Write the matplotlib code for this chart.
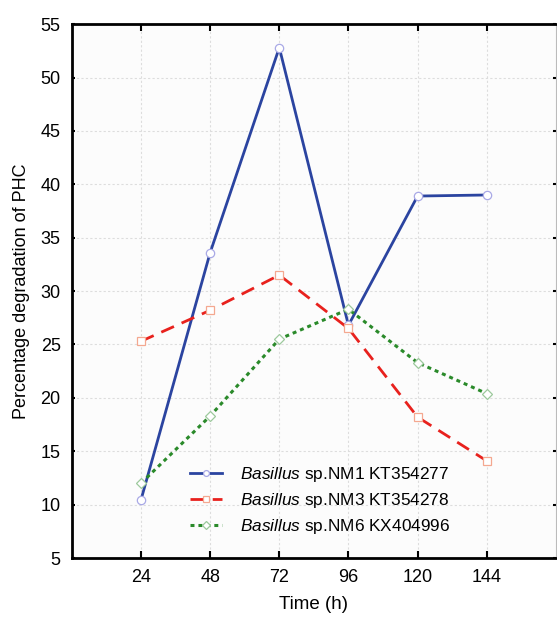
import numpy as np
import matplotlib.pyplot as plt

plt.rcParams['font.family'] = ['Liberation Sans', 'DejaVu Sans']
plt.rcParams['mathtext.fontset'] = 'custom'
plt.rcParams['mathtext.rm'] = 'Liberation Sans'
plt.rcParams['mathtext.it'] = 'Liberation Sans:italic'

# data
time_h = [24, 48, 72, 96, 120, 144]
nm1 = [10.45, 33.6, 52.8, 26.8, 38.9, 39.0]
nm3 = [25.3, 28.2, 31.5, 26.5, 18.2, 14.1]
nm6 = [12.0, 18.3, 25.5, 28.3, 23.3, 20.4]

labels = ['$\\it{Basillus}$ sp.NM1 KT354277',
          '$\\it{Basillus}$ sp.NM3 KT354278',
          '$\\it{Basillus}$ sp.NM6 KX404996']

x_ticks = [24, 48, 72, 96, 120, 144]
y_ticks = [5, 10, 15, 20, 25, 30, 35, 40, 45, 50, 55]

fig = plt.figure(figsize=(5.57, 6.19), dpi=100)
ax = fig.add_axes([0.129, 0.0985, 0.869, 0.8625])
ax.set_facecolor('#fcfcfc')

ax.plot(time_h, nm1, color='#2b44a0', lw=2, ls='-', marker='o', ms=6,
        mfc='white', mec='#a9a9e6', mew=0.9, label=labels[0])
ax.plot(time_h, nm3, color='#e8211d', lw=2, ls=(0, (5, 3)), marker='s', ms=6,
        mfc='white', mec='#f4a890', mew=0.9, label=labels[1])
ax.plot(time_h, nm6, color='#2a8a2a', lw=2.2, ls=(0, (1.3, 1.3)), marker='D', ms=5.5,
        mfc='white', mec='#9cc99c', mew=0.9, label=labels[2])

ax.set_xlim(0, 168)
ax.set_ylim(5, 55)
ax.set_xticks(x_ticks)
ax.set_yticks(y_ticks)
ax.grid(True, color='#dddddd', ls=(0, (2, 2)), lw=0.8)

for s in ['left', 'bottom', 'top']:
    ax.spines[s].set_linewidth(2)
    ax.spines[s].set_color('black')
ax.spines['right'].set_linewidth(0.8)
ax.spines['right'].set_color('#bbbbbb')

ax.tick_params(axis='both', labelsize=13, direction='in', length=5, width=1.5,
               top=True, right=True, pad=8)
ax.tick_params(axis='y', right=True, length=2)

ax.set_xlabel('Time (h)', fontsize=13.5, labelpad=7)
ax.set_ylabel('Percentage degradation of PHC', fontsize=13, labelpad=8)

ax.legend(loc='lower left', bbox_to_anchor=(0.213, 0.012), frameon=False,
          fontsize=12.4, handlelength=1.85, handletextpad=1.0,
          labelspacing=0.42, markerscale=0.7, borderpad=0.4)

fig.savefig('out.png', dpi=100)
